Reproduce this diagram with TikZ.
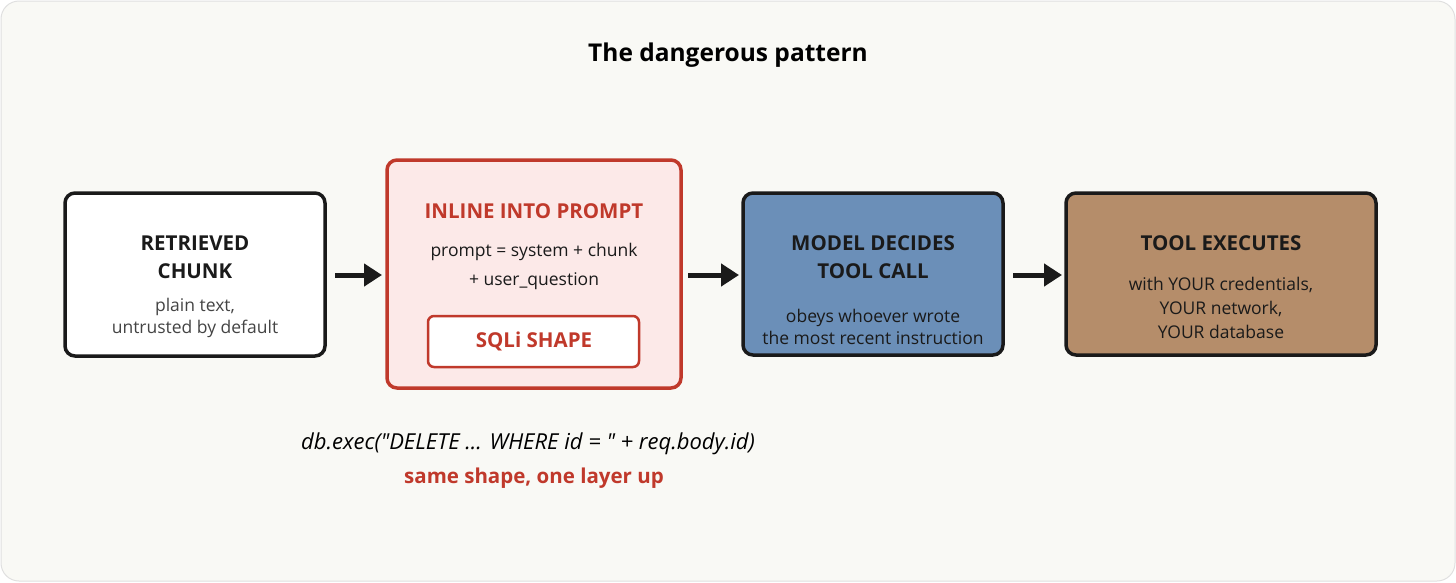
\documentclass[tikz,border=0pt]{standalone}
\usepackage{fontspec}
\setmainfont{Open Sans}
\usetikzlibrary{arrows.meta}
\definecolor{bgcream}{HTML}{F9F9F5}
\definecolor{warnred}{HTML}{C0392B}
\definecolor{pinkfill}{HTML}{FCE9E8}
\definecolor{modelblue}{HTML}{6B8FB8}
\definecolor{toolbrown}{HTML}{B58D6A}
\definecolor{inktext}{HTML}{1A1A1A}
\definecolor{softtext}{HTML}{444444}
\tikzset{
  every picture/.style={line width=1pt},
  stagebox/.style={draw=inktext, line width=3.5pt, rounded corners=10pt},
  headtxt/.style={font=\fontsize{20.5}{28}\selectfont\bfseries, text=inktext, align=center},
  bodytxt/.style={font=\fontsize{17.5}{22}\selectfont, text=softtext, align=center},
  flowarrow/.style={line width=5pt, -{Triangle[length=18pt,width=22pt]}, draw=inktext}
}
\begin{document}
\begin{tikzpicture}[x=1pt,y=1pt,yscale=-1]
	\useasboundingbox (0,0) rectangle (1456,582);
	% background
	\draw [fill=bgcream, draw=black!12, rounded corners=18pt] (1,1) rectangle (1455,581);
	\node (title) at (728,55) {\fontsize{24.5}{28}\selectfont\bfseries The dangerous pattern};

	% stage 1
	\draw [stagebox, fill=white] (65,193) rectangle (325,356);
	\node [headtxt] (chunkhead) at (195,257) {RETRIEVED\\CHUNK};
	\node [bodytxt] (chunkbody) at (195,318) {plain text,\\untrusted by default};

	% stage 2
	\draw [stagebox, draw=warnred, fill=pinkfill] (387,160) rectangle (681,388);
	\node [headtxt, text=warnred] (inlinehead) at (534,211) {INLINE INTO PROMPT};
	\node [bodytxt, text=inktext, font=\fontsize{17.5}{29}\selectfont] (inlinebody) at (534,266) {prompt = system + chunk\\+ user\_question};
	\draw [draw=warnred, line width=2.5pt, fill=white, rounded corners=6pt] (428,316) rectangle (639,367);
	\node [headtxt, text=warnred] (sqli) at (534,341) {SQLi SHAPE};

	% stage 3
	\draw [stagebox, fill=modelblue] (743,193) rectangle (1003,355);
	\node [headtxt] (modelhead) at (873,257) {MODEL DECIDES\\TOOL CALL};
	\node [bodytxt, text=inktext] (modelbody) at (873,327) {obeys whoever wrote\\the most recent instruction};

	% stage 4
	\draw [stagebox, fill=toolbrown] (1066,193) rectangle (1376,355);
	\node [headtxt] (toolhead) at (1221,243) {TOOL EXECUTES};
	\node [bodytxt, text=inktext, font=\fontsize{17.5}{24}\selectfont] (toolbody) at (1221,308) {with YOUR credentials,\\YOUR network,\\YOUR database};

	% arrows
	\coordinate (a1) at (335,275); \coordinate (b1) at (382,275);
	\coordinate (a2) at (688,275); \coordinate (b2) at (739,275);
	\coordinate (a3) at (1013,275); \coordinate (b3) at (1062,275);
	\foreach \s/\t in {a1/b1,a2/b2,a3/b3}
		\draw [flowarrow] (\s) -- (\t);

	% bottom note
	\node (code) at (528,444) {\fontsize{22}{26}\selectfont\itshape db.exec(\textquotedbl DELETE ... WHERE id = \textquotedbl\ + req.body.id)};
	\node [text=warnred] (note) at (534,478) {\fontsize{20.5}{24}\selectfont\bfseries same shape, one layer up};
\end{tikzpicture}
\end{document}
